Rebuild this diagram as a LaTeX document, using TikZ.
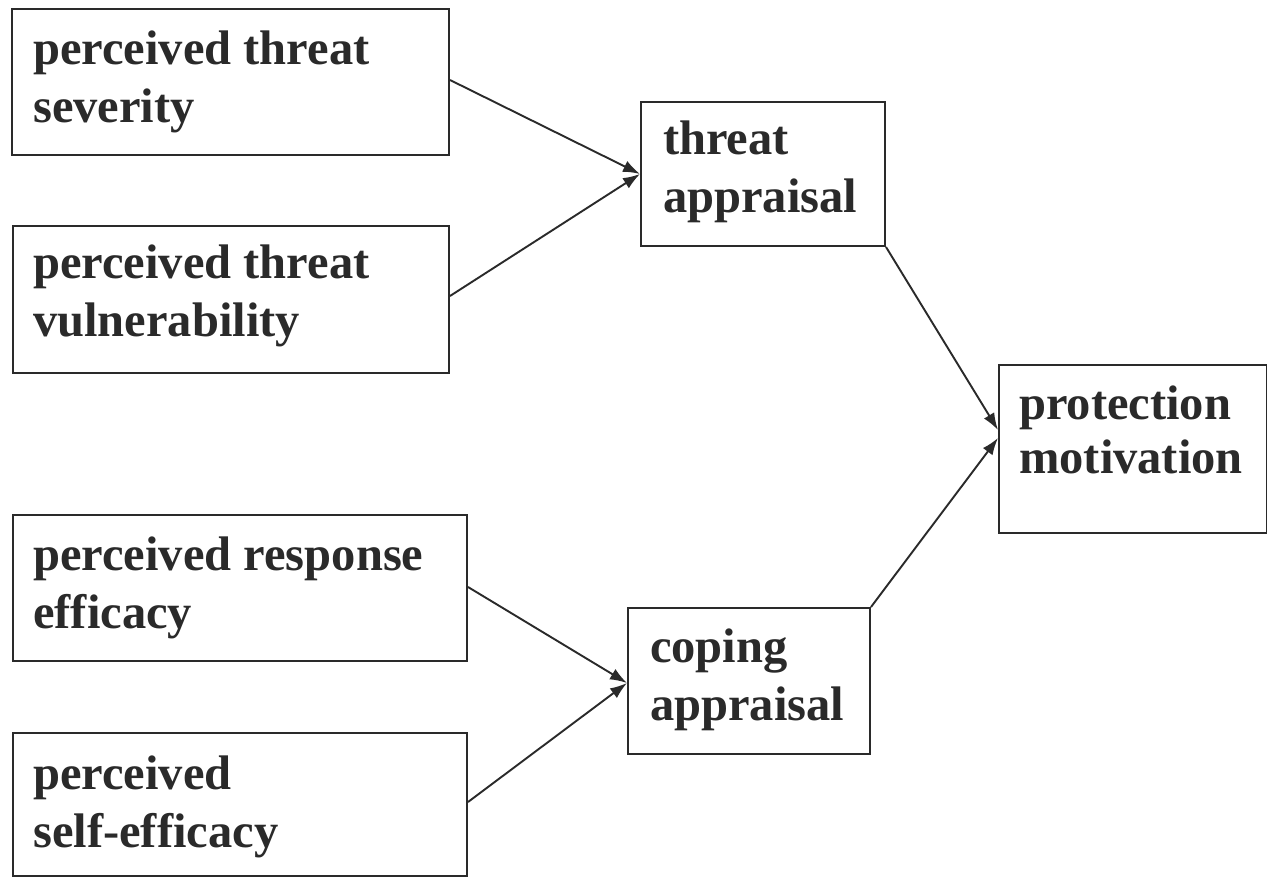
\documentclass[tikz,border=0pt]{standalone}
\usepackage{fontspec}
\setmainfont{Liberation Serif}
\usetikzlibrary{arrows.meta}
\definecolor{ink}{HTML}{2A2A2A}
\begin{document}
\begin{tikzpicture}[x=1pt,y=-1pt,
  boxn/.style={draw=ink, line width=2pt, rectangle, inner sep=0pt, anchor=north west},
  lbl/.style={text=ink, inner sep=0pt, anchor=base west, align=left,
    font=\bfseries\fontsize{48.5}{58}\selectfont},
  conn/.style={draw=ink, line width=1.9pt, -{Latex[length=17pt,width=12pt]}}
]
\useasboundingbox[fill=white] (0,0) rectangle (1267,877);

% boxes
\node[boxn, minimum width=437pt, minimum height=146pt] (sev) at (11,8) {};
\node[boxn, minimum width=436pt, minimum height=147pt] (vul) at (12,225) {};
\node[boxn, minimum width=244pt, minimum height=144pt] (ta) at (640,101) {};
\node[boxn, minimum width=268pt, minimum height=168pt] (pm) at (998,364) {};
\node[boxn, minimum width=454pt, minimum height=146pt] (re) at (12,514) {};
\node[boxn, minimum width=454pt, minimum height=143pt] (se) at (12,732) {};
\node[boxn, minimum width=242pt, minimum height=146pt] (ca) at (627,607) {};

% labels (anchored at the baseline of the last line)
\node[lbl] (sevt) at (33,123) {perceived threat\\severity};
\node[lbl] (vult) at (33,337) {perceived threat\\vulnerability};
\node[lbl] (tat) at (663,213) {threat\\appraisal};
\node[lbl, font=\bfseries\fontsize{48.5}{54}\selectfont] (pmt) at (1019,473) {protection\\motivation};
\node[lbl] (ret) at (33,628) {perceived response\\efficacy};
\node[lbl] (set) at (33,847) {perceived\\self-efficacy};
\node[lbl] (cat) at (650,720) {coping\\appraisal};

% connectors
\draw[conn] (sev.east |- 0,80) -- (ta.west |- 0,174);
\draw[conn] (vul.east |- 0,296) -- (ta.west |- 0,174);
\draw[conn] (ta.south east) -- (pm.west |- 0,430);
\draw[conn] (ca.north east) -- (pm.west |- 0,438);
\draw[conn] (re.east |- 0,587) -- (ca.west |- 0,683);
\draw[conn] (se.east |- 0,802) -- (ca.west |- 0,683);
\end{tikzpicture}
\end{document}
